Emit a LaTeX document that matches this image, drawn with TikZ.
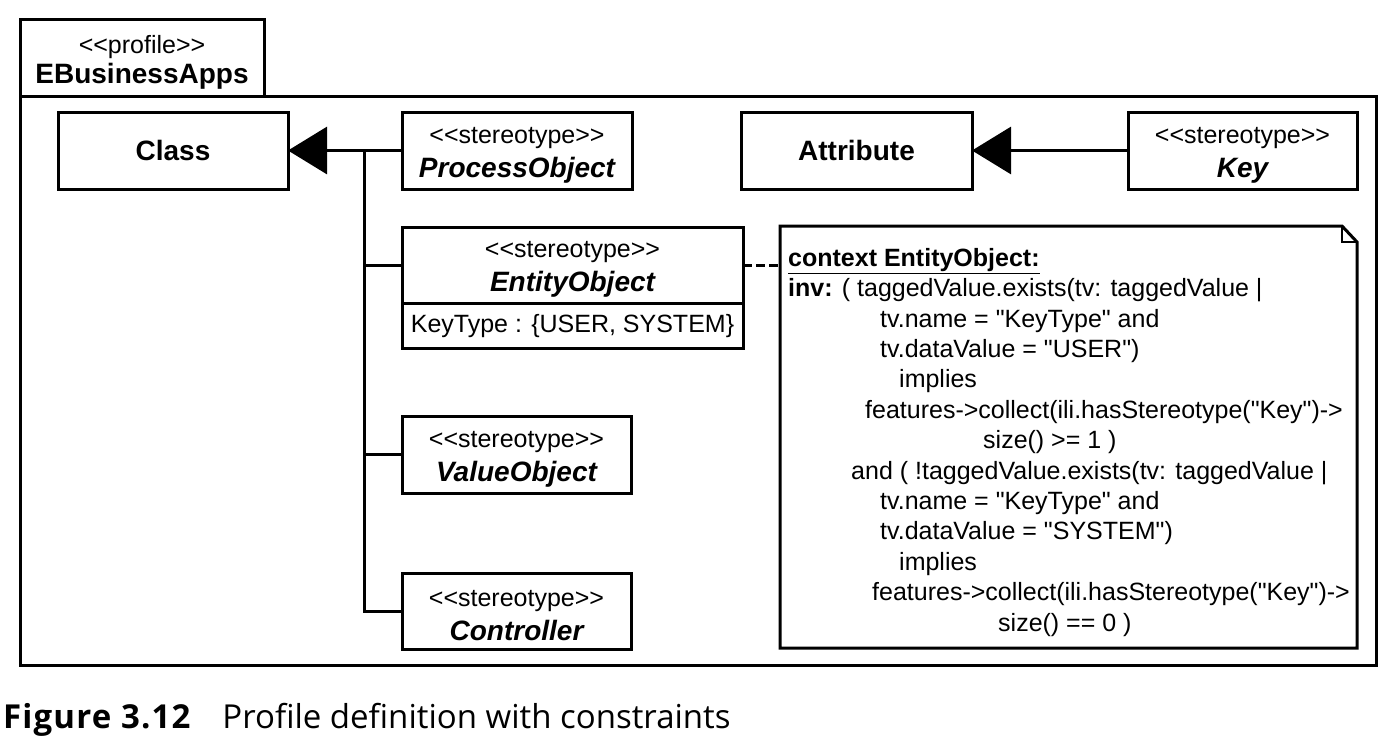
\documentclass[tikz,border=0pt]{standalone}
\usepackage{fontspec}
\newfontfamily\umlfont{Liberation Sans}
\newfontfamily\capfont{Open Sans}
\usetikzlibrary{arrows.meta}

\tikzset{
  umlbox/.style={draw, line width=3pt, inner sep=0pt, outer sep=0pt, align=center, minimum height=77pt},
  stereo/.style={font=\fontsize{25}{34}\selectfont},
  metaname/.style={font=\fontsize{28}{34}\selectfont\bfseries},
  gen/.style={line width=3pt, -{Triangle[length=39pt,width=47pt]}},
}
\newcommand{\stname}[1]{\rule{0pt}{25pt}<<stereotype>>\\{\fontsize{28}{34}\selectfont\bfseries\itshape #1}}

\begin{document}
\umlfont
\begin{tikzpicture}[x=1pt,y=-1pt]
    \useasboundingbox (0,0) rectangle (1394,750);
    % Profile package
    \draw[line width=3pt] (20,96) rectangle (1376,665);
    \node[umlbox, minimum width=244pt, font=\fontsize{25}{30}\selectfont] (tab) at (142,57.5) {\rule{0pt}{28pt}<<profile>>\\{\fontsize{28}{30}\selectfont\bfseries EBusinessApps}};
    % Metaclasses
    \node[umlbox, metaname, minimum width=230pt] (cls) at (173,150.5) {Class};
    \node[umlbox, metaname, minimum width=231pt] (attr) at (856.5,150.5) {Attribute};
    % Stereotypes
    \node[umlbox, stereo, minimum width=230pt] (proc) at (517,150.5) {\stname{ProcessObject}};
    \node[umlbox, stereo, minimum width=341pt, minimum height=76pt] (ent) at (572.5,265) {\stname{EntityObject}};
    \node[umlbox, font=\fontsize{25}{30}\selectfont, minimum width=341pt, minimum height=45pt, anchor=north] (entattr) at (ent.south) {\rule{0pt}{20pt}KeyType : \{USER, SYSTEM\}};
    \node[umlbox, stereo, minimum width=229pt] (val) at (516.5,454.5) {\stname{ValueObject}};
    \node[umlbox, stereo, minimum width=229pt, minimum height=76pt] (ctrl) at (516.5,611) {\stname{Controller}};
    \node[umlbox, stereo, minimum width=229pt] (key) at (1242.5,150.5) {\stname{Key}};
    % Extension arrows
    \coordinate (trunk) at (364,150.5);
    \draw[gen] (proc) -- (cls);
    \foreach \n in {ent,val,ctrl}
        \draw[line width=3pt] (\n.west) -| (trunk);
    \draw[gen] (key) -- (attr);
    % Constraint note
    \node[minimum width=577pt, minimum height=422pt, inner sep=0pt, outer sep=0pt] (note) at (1068.5,437) {};
    \draw[line width=3pt] (note.north west) -- ([xshift=-15pt]note.north east) -- ([yshift=-16pt]note.north east) -- (note.south east) -- (note.south west) -- cycle;
    \draw[line width=2pt] ([xshift=-15pt]note.north east) |- ([yshift=-16pt]note.north east); % Dog ear
    \draw[line width=3pt, dash pattern=on 9pt off 4pt] (ent.east) -- (note.west |- ent.east);
    \node[anchor=north west, inner sep=0pt, align=left, font=\fontsize{25}{30.4}\selectfont] (ocl) at (788,248) {\underline{\textbf{context EntityObject:}}\\
        \textbf{inv:} ( taggedValue.exists(tv: taggedValue |\\
        \hspace*{92pt}tv.name = "KeyType" and\\
        \hspace*{92pt}tv.dataValue = "USER")\\
        \hspace*{111pt}implies\\
        \hspace*{77pt}features->collect(ili.hasStereotype("Key")->\\
        \hspace*{195pt}size() >= 1 )\\
        \hspace*{63pt}and ( !taggedValue.exists(tv: taggedValue |\\
        \hspace*{92pt}tv.name = "KeyType" and\\
        \hspace*{92pt}tv.dataValue = "SYSTEM")\\
        \hspace*{111pt}implies\\
        \hspace*{84pt}features->collect(ili.hasStereotype("Key")->\\
        \hspace*{210pt}size() == 0 )};
    % Caption
    \node[anchor=base west, inner sep=0pt, font=\capfont\fontsize{33}{40}\selectfont] (caption) at (3,728) {{\bfseries\addfontfeature{LetterSpace=3.5}Figure 3.12}\hspace{32pt}Profile definition with constraints};
\end{tikzpicture}
\end{document}
